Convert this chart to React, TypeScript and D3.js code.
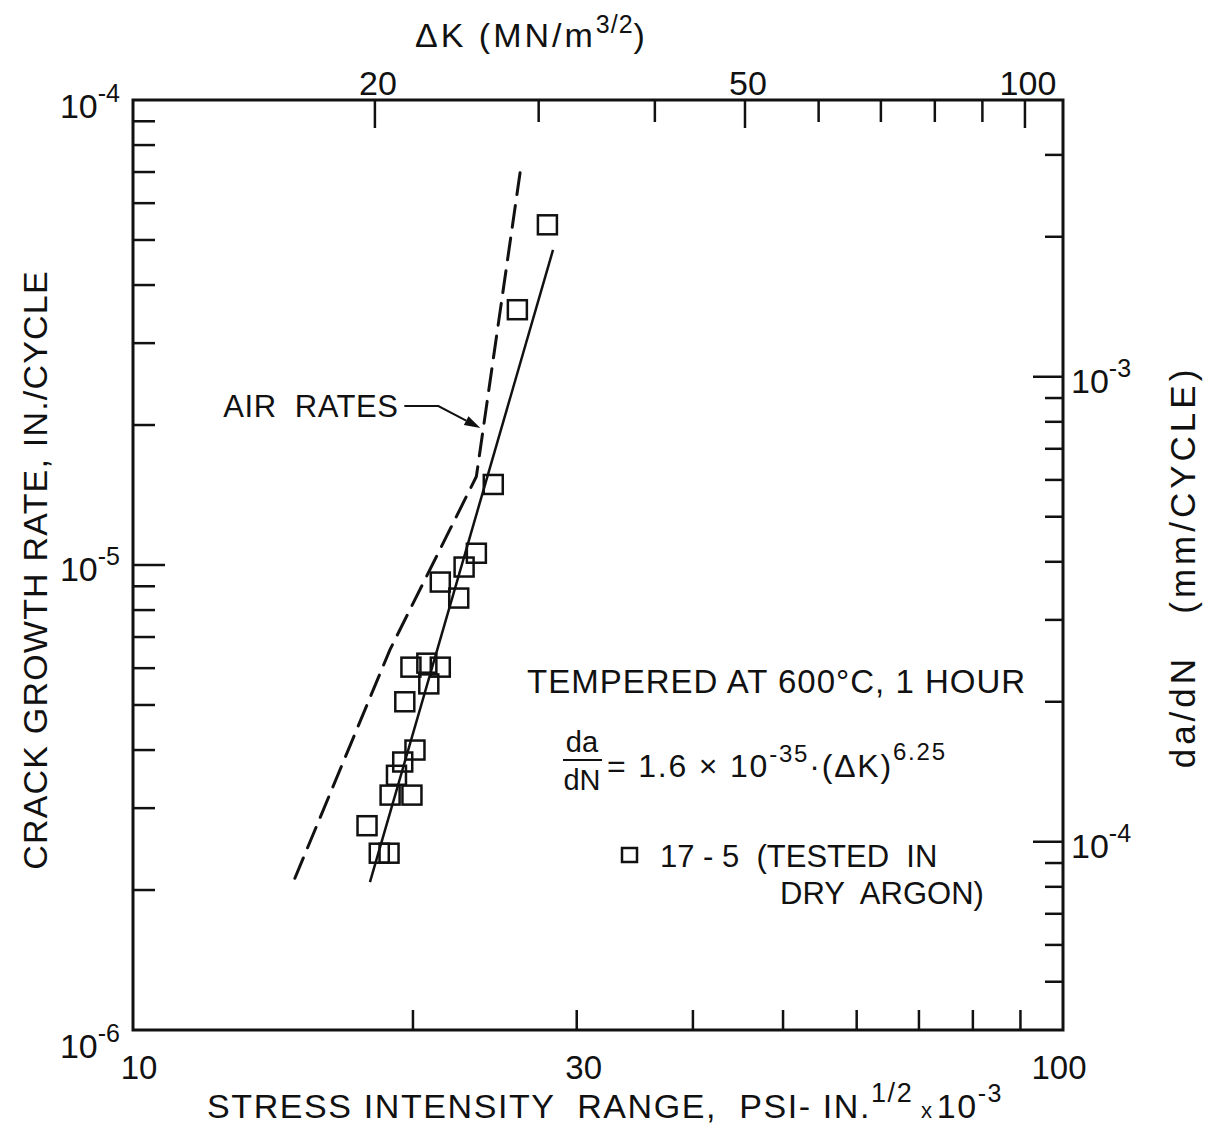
import React from "react";
import * as d3 from "d3";

// ΔK in ksi·in^1/2 (bottom axis) and da/dN in in./cycle (left axis)
const argonDeltaK = [27.9, 25.9, 24.4, 23.4, 22.7, 21.4, 22.4, 19.9, 20.7, 21.4, 20.8, 19.6, 20.1, 19.5, 19.2, 18.9, 19.95, 17.85, 18.4, 18.85];
const argonRate = [5.39e-5, 3.54e-5, 1.49e-5, 1.06e-5, 9.9e-6, 9.19e-6, 8.49e-6, 6.03e-6, 6.15e-6, 6.03e-6, 5.55e-6, 5.08e-6, 4.0e-6, 3.77e-6, 3.53e-6, 3.2e-6, 3.2e-6, 2.75e-6, 2.4e-6, 2.4e-6];

// fitted power-law line through the argon data
const fitDeltaK = [17.98, 28.29];
const fitRate = [2.08e-6, 4.76e-5];

// air-environment reference curve
const airDeltaK = [14.93, 18.89, 23.4, 26.08];
const airRate = [2.12e-6, 6.57e-6, 1.55e-5, 7.0e-5];
const airArrowRate = 1.97e-5;

// axis ticks
const bottomTicks = [20, 30, 40, 50, 60, 70, 80, 90];
const bottomLabels = [10, 30, 100];
const topTicks = [20, 30, 40, 50, 60, 70, 80, 90, 100];
const topLabels = [20, 50, 100];
const leftMinor = [2e-6, 3e-6, 4e-6, 5e-6, 6e-6, 7e-6, 8e-6, 9e-6, 2e-5, 3e-5, 4e-5, 5e-5, 6e-5, 7e-5, 8e-5, 9e-5];
const leftLabels = [{ v: 1e-4, e: "-4" }, { v: 1e-5, e: "-5" }, { v: 1e-6, e: "-6" }];
const rightMinor = [5e-5, 6e-5, 7e-5, 8e-5, 9e-5, 2e-4, 3e-4, 4e-4, 5e-4, 6e-4, 7e-4, 8e-4, 9e-4, 2e-3, 3e-3];
const rightLabels = [{ v: 1e-3, e: "-3" }, { v: 1e-4, e: "-4" }];

const MPA_PER_KSI = 1.0988;
const RIGHT_FACTOR = 1 / 0.0254;

const W = 1207;
const H = 1134;
const L = 133, R = 1063, T = 100, B = 1030;
const FONT = "'Liberation Sans', Arial, sans-serif";
const INK = "#111";

const x = d3.scaleLog().domain([10, 100]).range([L, R]);
const y = d3.scaleLog().domain([1e-6, 1e-4]).range([B, T]);
const xTop = d3.scaleLog().domain([10 * MPA_PER_KSI, 100 * MPA_PER_KSI]).range([L, R]);
const yRight = d3.scaleLog().domain([1e-6 * RIGHT_FACTOR, 1e-4 * RIGHT_FACTOR]).range([B, T]);

function airKAt(rate: number) {
  for (let i = 0; i < airRate.length - 1; i++) {
    if (rate >= airRate[i] && rate <= airRate[i + 1]) {
      const t = (Math.log(rate) - Math.log(airRate[i])) / (Math.log(airRate[i + 1]) - Math.log(airRate[i]));
      return Math.exp(Math.log(airDeltaK[i]) + t * (Math.log(airDeltaK[i + 1]) - Math.log(airDeltaK[i])));
    }
  }
  return airDeltaK[airDeltaK.length - 1];
}

export default function App() {
  const line = d3.line<[number, number]>().x((d) => x(d[0])).y((d) => y(d[1]));
  const fitPath = line(fitDeltaK.map((k, i) => [k, fitRate[i]] as [number, number])) || "";
  const airPath = line(airDeltaK.map((k, i) => [k, airRate[i]] as [number, number])) || "";

  const tipX = x(airKAt(airArrowRate)) - 3;
  const tipY = y(airArrowRate);
  const elbowX = tipX - 42;
  const elbowY = tipY - 22;
  const dx = tipX - elbowX, dy = tipY - elbowY;
  const len = Math.hypot(dx, dy);
  const ux = dx / len, uy = dy / len;
  const ah = 16, aw = 5;
  const head = `M${tipX},${tipY} L${tipX - ah * ux - aw * uy},${tipY - ah * uy + aw * ux} L${tipX - ah * ux + aw * uy},${tipY - ah * uy - aw * ux} Z`;

  const sq = 19;

  return (
    <svg width={W} height={H} style={{ position: "absolute", left: 0, top: 0, background: "#fff" }} fontFamily={FONT} fill={INK}>
      <rect x={0} y={0} width={W} height={H} fill="#fff" />

      {/* frame */}
      <rect x={L} y={T} width={R - L} height={B - T} fill="none" stroke={INK} strokeWidth={3} />

      {/* bottom ticks */}
      {bottomTicks.map((v) => (
        <line key={"b" + v} x1={x(v)} x2={x(v)} y1={B} y2={B - 20} stroke={INK} strokeWidth={2.5} />
      ))}
      {bottomLabels.map((v) => (
        <text key={"bl" + v} x={x(v) + (v === 10 ? 6 : v === 100 ? -4 : 7)} y={1079} fontSize={33} textAnchor="middle">{v}</text>
      ))}

      {/* top ticks (MN/m^3/2) */}
      {topTicks.map((v) => (
        <line key={"t" + v} x1={xTop(v)} x2={xTop(v)} y1={T} y2={T + (topLabels.includes(v) ? 28 : 22)} stroke={INK} strokeWidth={2.5} />
      ))}
      {topLabels.map((v) => (
        <text key={"tl" + v} x={xTop(v) + 3} y={95} fontSize={34} textAnchor="middle">{v}</text>
      ))}

      {/* left ticks */}
      {leftMinor.map((v) => (
        <line key={"l" + v} x1={L} x2={L + 22} y1={y(v)} y2={y(v)} stroke={INK} strokeWidth={2.5} />
      ))}
      <line x1={L} x2={L + 32} y1={y(1e-5)} y2={y(1e-5)} stroke={INK} strokeWidth={2.5} />
      {leftLabels.map((d) => (
        <text key={"ll" + d.e} x={120} y={y(d.v) + (d.v === 1e-6 ? 28 : d.v === 1e-4 ? 18 : 16)} fontSize={34} textAnchor="end">
          10<tspan fontSize={25} dy={-16}>{d.e}</tspan>
        </text>
      ))}

      {/* right ticks (mm/cycle) */}
      {rightMinor.map((v) => (
        <line key={"r" + v} x1={R} x2={R - 18} y1={yRight(v)} y2={yRight(v)} stroke={INK} strokeWidth={2.5} />
      ))}
      {rightLabels.map((d) => (
        <g key={"rl" + d.e}>
          <line x1={R} x2={R - 30} y1={yRight(d.v)} y2={yRight(d.v)} stroke={INK} strokeWidth={2.5} />
          <text x={R + 8} y={yRight(d.v) + 16} fontSize={34}>
            10<tspan fontSize={25} dy={-16}>{d.e}</tspan>
          </text>
        </g>
      ))}

      {/* axis titles */}
      <text x={415} y={47} fontSize={34} letterSpacing={3} xmlSpace="preserve">
        ΔK (MN/m<tspan fontSize={25} dy={-14} letterSpacing={1}>3/2</tspan><tspan dy={14}>)</tspan>
      </text>
      <text x={207} y={1118} fontSize={34} letterSpacing={1.6} xmlSpace="preserve">
        STRESS INTENSITY  RANGE,  PSI- IN.<tspan fontSize={27} dy={-16}>1/2</tspan>
        <tspan fontSize={22} dy={16}> x</tspan><tspan dx={3}>10</tspan><tspan fontSize={25} dy={-16}>-3</tspan>
      </text>
      <text transform={`translate(47, ${(T + B) / 2 + 5}) rotate(-90)`} fontSize={34} textAnchor="middle" letterSpacing={1.2}>
        CRACK GROWTH RATE, IN./CYCLE
      </text>
      <text transform={`translate(1195, 567) rotate(-90)`} fontSize={35} textAnchor="middle" letterSpacing={4} xmlSpace="preserve">
        da/dN   (mm/CYCLE)
      </text>

      {/* air rates (dashed) */}
      <path d={airPath} fill="none" stroke={INK} strokeWidth={3} strokeDasharray="22 11" strokeLinecap="round" />
      {/* argon fit (solid) */}
      <path d={fitPath} fill="none" stroke={INK} strokeWidth={2.5} />

      {/* argon data points */}
      {argonDeltaK.map((k, i) => (
        <rect key={"p" + i} x={x(k) - sq / 2} y={y(argonRate[i]) - sq / 2} width={sq} height={sq} fill="none" stroke={INK} strokeWidth={2.5} />
      ))}

      {/* AIR RATES callout */}
      <text x={elbowX - 40} y={elbowY + 11} fontSize={31} textAnchor="end" letterSpacing={0.5} xmlSpace="preserve">AIR  RATES</text>
      <path d={`M${elbowX - 34},${elbowY} L${elbowX},${elbowY} L${tipX - ah * ux},${tipY - ah * uy}`} fill="none" stroke={INK} strokeWidth={2} />
      <path d={head} fill={INK} />

      {/* annotation block */}
      <text x={527} y={693} fontSize={33} letterSpacing={1} xmlSpace="preserve">TEMPERED AT 600°C, 1 HOUR</text>
      <text x={582} y={752} fontSize={29} textAnchor="middle">da</text>
      <line x1={563} x2={602} y1={760} y2={760} stroke={INK} strokeWidth={2} />
      <text x={582} y={790} fontSize={29} textAnchor="middle">dN</text>
      <text x={607} y={777} fontSize={32} letterSpacing={1.8}>
        = 1.6 × 10<tspan fontSize={24} dy={-15}>-35</tspan><tspan dy={15}>·(ΔK)</tspan><tspan fontSize={24} dy={-17}>6.25</tspan>
      </text>

      {/* legend */}
      <rect x={622} y={848} width={15} height={14} fill="none" stroke={INK} strokeWidth={2.5} />
      <text x={660} y={867} fontSize={31} xmlSpace="preserve">17 - 5  (TESTED  IN</text>
      <text x={780} y={904} fontSize={31} xmlSpace="preserve">DRY  ARGON)</text>
    </svg>
  );
}
